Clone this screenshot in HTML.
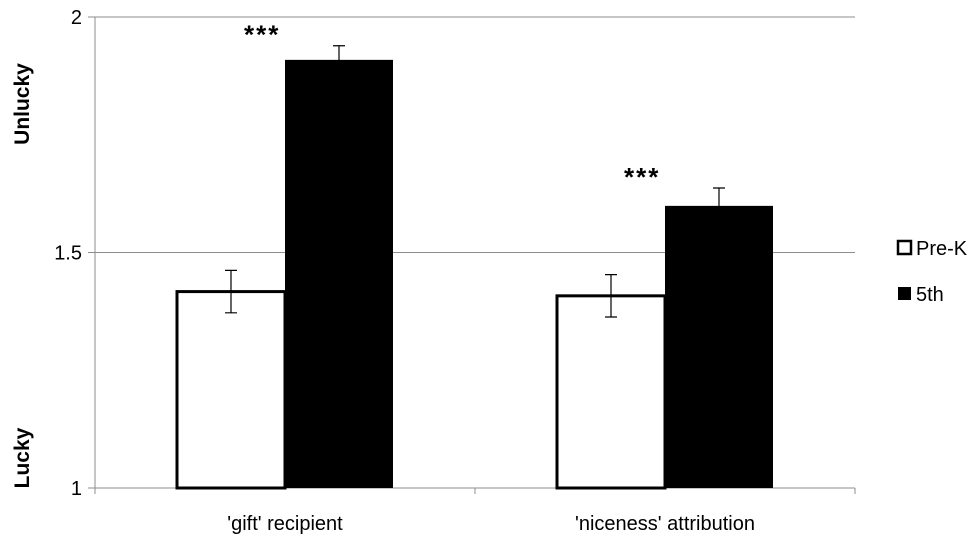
<!DOCTYPE html>
<html><head><meta charset="utf-8"><style>
body{margin:0;background:#fff;font-family:"Liberation Sans",sans-serif}
</style></head><body>
<svg id="c" width="977" height="539" xmlns="http://www.w3.org/2000/svg"></svg>
<script>
const categories=["'gift' recipient","'niceness' attribution"];
const preK=[1.417,1.408];
const preKErr=[0.045,0.045];
const fifth=[1.909,1.599];
const fifthErr=[0.03,0.038];
const yTicks=[1,1.5,2];
const yTickLabels=["1","1.5","2"];
const stars=["***","***"];

const svg=document.getElementById('c');
const NS='http://www.w3.org/2000/svg';
const x0=95,x1=855,yTop=17,yBot=488,ymin=1,ymax=2;
const y=v=>yBot-(v-ymin)/(ymax-ymin)*(yBot-yTop);
const groupW=(x1-x0)/categories.length;
const barW=108;
const gx=i=>x0+groupW*(i+0.5);
function mk(t,a,txt){const e=document.createElementNS(NS,t);for(const k in a)e.setAttribute(k,a[k]);if(txt!=null)e.textContent=txt;svg.appendChild(e);return e;}

yTicks.forEach((t,i)=>{
 const g=mk('line',{x1:88,x2:x1,y1:y(t),y2:y(t),stroke:'#8c8c8c','stroke-width':1});
 
 
 const l=mk('text',{x:82,y:y(t)+7,'text-anchor':'end','font-size':20,fill:'#000'},yTickLabels[i]);
 
 
});
const ax=mk('line',{x1:x0,x2:x0,y1:yTop,y2:yBot+6,stroke:'#8c8c8c'});


categories.forEach((c,i)=>{
 const xt=mk('line',{x1:x0+groupW*(i+1),x2:x0+groupW*(i+1),y1:yBot,y2:yBot+6,stroke:'#8c8c8c'});
 
 
 const cx=gx(i);
 const b1=mk('rect',{x:cx-barW,y:y(preK[i]),width:barW,height:yBot-y(preK[i]),fill:'#fff',stroke:'#000','stroke-width':3});
 
 
 const b2=mk('rect',{x:cx,y:y(fifth[i]),width:barW,height:yBot-y(fifth[i]),fill:'#000'});
 
 
 [[cx-barW/2,preK[i],preKErr[i]],[cx+barW/2,fifth[i],fifthErr[i]]].forEach(([ex,v,e])=>{
  const p=mk('path',{d:`M${ex},${y(v+e)}V${y(v-e)}M${ex-6},${y(v+e)}H${ex+6}M${ex-6},${y(v-e)}H${ex+6}`,stroke:'#000','stroke-width':1.2,fill:'none'});
  
  
 });
 const s=mk('text',{x:cx-groupW*0.06,y:y(fifth[i]+fifthErr[i])-2,'text-anchor':'middle','font-size':26,'font-weight':'bold','letter-spacing':2},stars[i]);
 
 
 const cl=mk('text',{x:cx,y:530,'text-anchor':'middle','font-size':20},c);
 
 
});
const u=mk('text',{transform:'translate(29,104) rotate(-90)','text-anchor':'middle','font-size':21,'font-weight':'bold'},'Unlucky');


const lk=mk('text',{transform:'translate(29,458) rotate(-90)','text-anchor':'middle','font-size':21,'font-weight':'bold'},'Lucky');


const lr1=mk('rect',{x:898,y:241,width:13,height:13,fill:'#fff',stroke:'#000','stroke-width':2.5});


const lt1=mk('text',{x:916,y:255,'font-size':20},'Pre-K');


const lr2=mk('rect',{x:898,y:287,width:13,height:13,fill:'#000'});


const lt2=mk('text',{x:916,y:301,'font-size':20},'5th');


</script>
</body></html>
